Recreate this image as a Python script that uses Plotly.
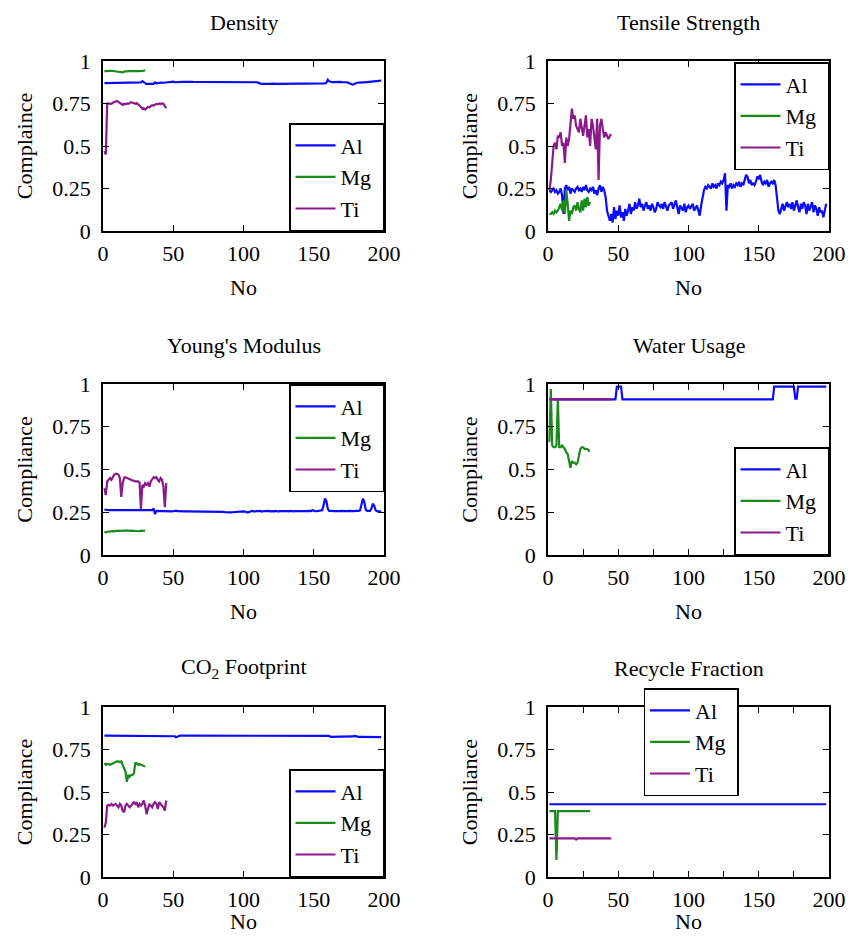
import plotly.graph_objects as go

FONT = "Liberation Serif"
COLORS = {"Al": "#0a0aff", "Mg": "#1a8a1a", "Ti": "#8a1a8a"}
SERIES = ["Al", "Mg", "Ti"]

titles = ["Density", "Tensile Strength", "Young's Modulus", "Water Usage",
          "CO<sub>2</sub> Footprint", "Recycle Fraction"]
ylabels = ["Complaince", "Compliance", "Compliance", "Compliance", "Compliance", "Compliance"]
xlabel = "No"
x_ticks = [0, 50, 100, 150, 200]
y_ticks = [0, 0.25, 0.5, 0.75, 1]
y_ticktext = ["0", "0.25", "0.5", "0.75", "1"]

# ---------------- Density ----------------
density_al = [
    0.870, 0.870, 0.871, 0.870, 0.870, 0.871, 0.870, 0.870, 0.871, 0.871, 0.870, 0.870, 0.871, 0.870, 0.870, 0.871, 0.871, 0.870, 0.870, 0.871,
    0.870, 0.871, 0.871, 0.870, 0.871, 0.872, 0.874, 0.882, 0.876, 0.866, 0.864, 0.866, 0.865, 0.866, 0.867, 0.866, 0.874, 0.869, 0.870, 0.872,
    0.872, 0.873, 0.872, 0.873, 0.873, 0.874, 0.873, 0.874, 0.876, 0.879, 0.875, 0.876, 0.876, 0.877, 0.877, 0.876, 0.877, 0.877, 0.878, 0.877,
    0.877, 0.877, 0.878, 0.877, 0.877, 0.878, 0.878, 0.877, 0.877, 0.878, 0.877, 0.877, 0.876, 0.877, 0.877, 0.876, 0.876, 0.877, 0.876, 0.877,
    0.877, 0.876, 0.877, 0.877, 0.878, 0.878, 0.877, 0.878, 0.879, 0.878, 0.877, 0.877, 0.876, 0.876, 0.877, 0.876, 0.876, 0.876, 0.877, 0.876,
    0.876, 0.876, 0.877, 0.876, 0.876, 0.875, 0.876, 0.876, 0.875, 0.874, 0.868, 0.867, 0.866, 0.867, 0.868, 0.867, 0.866, 0.866, 0.867, 0.866,
    0.867, 0.867, 0.866, 0.866, 0.868, 0.867, 0.867, 0.868, 0.869, 0.868, 0.868, 0.867, 0.868, 0.868, 0.867, 0.868, 0.867, 0.867, 0.868, 0.868,
    0.868, 0.867, 0.868, 0.868, 0.869, 0.868, 0.868, 0.869, 0.869, 0.868, 0.869, 0.868, 0.868, 0.869, 0.868, 0.868, 0.869, 0.868, 0.872, 0.890,
    0.880, 0.876, 0.875, 0.876, 0.877, 0.876, 0.877, 0.878, 0.877, 0.876, 0.877, 0.876, 0.875, 0.874, 0.872, 0.866, 0.863, 0.861, 0.866, 0.870,
    0.872, 0.873, 0.872, 0.873, 0.874, 0.874, 0.875, 0.875, 0.874, 0.875, 0.876, 0.876, 0.877, 0.878, 0.880, 0.882, 0.884, 0.885,
]
density_mg = [
    0.940, 0.941, 0.941, 0.940, 0.941, 0.942, 0.941, 0.940, 0.941, 0.941, 0.940, 0.939, 0.937, 0.933, 0.938,
    0.940, 0.941, 0.940, 0.941, 0.940, 0.939, 0.938, 0.939, 0.940, 0.941, 0.940, 0.941, 0.942, 0.943, 0.945,
]
density_ti = [
    0.47, 0.45, 0.75, 0.750, 0.752, 0.748, 0.755, 0.760, 0.762, 0.765, 0.760, 0.755, 0.750, 0.742, 0.748,
    0.745, 0.750, 0.748, 0.752, 0.758, 0.755, 0.750, 0.748, 0.752, 0.745, 0.740, 0.730, 0.718, 0.722, 0.715,
    0.725, 0.730, 0.728, 0.735, 0.740, 0.738, 0.744, 0.748, 0.745, 0.750, 0.747, 0.750, 0.748, 0.735, 0.722,
]

# ---------------- Tensile Strength ----------------
tensile_al = [
    0.24, 0.23, 0.24, 0.25, 0.23, 0.24, 0.22, 0.23, 0.25, 0.21,
    0.10, 0.25, 0.27, 0.24, 0.26, 0.22, 0.25, 0.24, 0.23, 0.25,
    0.26, 0.24, 0.25, 0.23, 0.26, 0.24, 0.27, 0.24, 0.23, 0.25,
    0.24, 0.26, 0.22, 0.24, 0.21, 0.25, 0.27, 0.23, 0.26, 0.24,
    0.20, 0.12, 0.08, 0.06, 0.10, 0.05, 0.14, 0.07, 0.12, 0.09,
    0.15, 0.08, 0.11, 0.06, 0.13, 0.09, 0.12, 0.16, 0.10, 0.14,
    0.12, 0.17, 0.13, 0.15, 0.19, 0.14, 0.16, 0.12, 0.15, 0.17,
    0.13, 0.15, 0.12, 0.16, 0.14, 0.11, 0.13, 0.17, 0.15, 0.14,
    0.16, 0.13, 0.17, 0.14, 0.12, 0.15, 0.16, 0.17, 0.13, 0.16,
    0.18, 0.14, 0.10, 0.15, 0.13, 0.12, 0.16, 0.11, 0.14, 0.15,
    0.13, 0.15, 0.16, 0.12, 0.14, 0.15, 0.12, 0.09, 0.15, 0.20,
    0.24, 0.26, 0.25, 0.27, 0.26, 0.25, 0.28, 0.26, 0.27, 0.25,
    0.28, 0.27, 0.29, 0.28, 0.30, 0.34, 0.12, 0.27, 0.26, 0.28,
    0.25, 0.27, 0.26, 0.28, 0.27, 0.29, 0.26, 0.28, 0.27, 0.30,
    0.33, 0.32, 0.28, 0.30, 0.27, 0.28, 0.27, 0.29, 0.32, 0.31,
    0.33, 0.29, 0.27, 0.29, 0.28, 0.30, 0.26, 0.28, 0.29, 0.28,
    0.30, 0.27, 0.18, 0.12, 0.10, 0.14, 0.16, 0.12, 0.15, 0.17,
    0.14, 0.16, 0.13, 0.17, 0.12, 0.15, 0.18, 0.14, 0.11, 0.16,
    0.13, 0.17, 0.15, 0.10, 0.16, 0.12, 0.14, 0.17, 0.11, 0.15,
    0.13, 0.09, 0.14, 0.11, 0.12, 0.08, 0.12, 0.16,
]
tensile_mg = [
    0.10, 0.10, 0.11, 0.10, 0.12, 0.11, 0.12, 0.14, 0.16, 0.12, 0.18, 0.10, 0.24, 0.16, 0.06,
    0.12, 0.10, 0.14, 0.15, 0.12, 0.17, 0.13, 0.11, 0.18, 0.12, 0.19, 0.14, 0.20, 0.15, 0.17,
]
tensile_ti = [
    0.24, 0.30, 0.40, 0.50, 0.52, 0.48, 0.56, 0.55, 0.58, 0.50, 0.52, 0.40, 0.55, 0.50, 0.54,
    0.62, 0.72, 0.66, 0.68, 0.62, 0.60, 0.58, 0.66, 0.60, 0.56, 0.62, 0.68, 0.55, 0.60, 0.50,
    0.66, 0.62, 0.55, 0.48, 0.66, 0.30, 0.62, 0.66, 0.60, 0.55, 0.58, 0.56, 0.54, 0.56, 0.57,
]

# ---------------- Young's Modulus ----------------
young_al = [
    0.265, 0.262, 0.263, 0.262, 0.262, 0.263, 0.262, 0.261, 0.262, 0.263,
    0.262, 0.261, 0.262, 0.263, 0.262, 0.261, 0.262, 0.263, 0.262, 0.262,
    0.261, 0.262, 0.261, 0.262, 0.263, 0.262, 0.261, 0.262, 0.263, 0.262,
    0.261, 0.262, 0.262, 0.261, 0.262, 0.272, 0.240, 0.258, 0.257, 0.256,
    0.256, 0.255, 0.256, 0.257, 0.256, 0.255, 0.256, 0.255, 0.255, 0.256,
    0.258, 0.259, 0.256, 0.255, 0.255, 0.255, 0.256, 0.255, 0.255, 0.255,
    0.255, 0.256, 0.255, 0.255, 0.255, 0.255, 0.256, 0.255, 0.255, 0.255,
    0.255, 0.255, 0.256, 0.255, 0.255, 0.255, 0.255, 0.256, 0.255, 0.255,
    0.255, 0.255, 0.255, 0.254, 0.253, 0.252, 0.250, 0.249, 0.249, 0.250,
    0.249, 0.250, 0.251, 0.250, 0.252, 0.254, 0.255, 0.256, 0.258, 0.255,
    0.254, 0.250, 0.248, 0.252, 0.255, 0.258, 0.256, 0.254, 0.257, 0.255,
    0.256, 0.258, 0.254, 0.256, 0.257, 0.255, 0.256, 0.258, 0.255, 0.257,
    0.256, 0.255, 0.258, 0.256, 0.254, 0.257, 0.256, 0.258, 0.255, 0.256,
    0.257, 0.255, 0.258, 0.256, 0.257, 0.255, 0.256, 0.258, 0.257, 0.256,
    0.258, 0.256, 0.257, 0.255, 0.257, 0.258, 0.256, 0.257, 0.262, 0.258,
    0.257, 0.256, 0.258, 0.257, 0.258, 0.262, 0.290, 0.330, 0.315, 0.270,
    0.258, 0.256, 0.258, 0.257, 0.256, 0.258, 0.257, 0.256, 0.258, 0.257,
    0.256, 0.258, 0.257, 0.256, 0.258, 0.257, 0.256, 0.258, 0.257, 0.258,
    0.257, 0.258, 0.262, 0.300, 0.330, 0.310, 0.265, 0.258, 0.257, 0.258,
    0.270, 0.300, 0.290, 0.262, 0.256, 0.255, 0.255, 0.254,
]
young_mg = [
    0.135, 0.133, 0.136, 0.138, 0.137, 0.139, 0.140, 0.138, 0.141, 0.142, 0.140, 0.143, 0.141, 0.140, 0.142,
    0.144, 0.141, 0.143, 0.140, 0.142, 0.141, 0.143, 0.140, 0.142, 0.141, 0.139, 0.142, 0.140, 0.143, 0.141,
]
young_ti = [
    0.39, 0.35, 0.43, 0.44, 0.45, 0.44, 0.46, 0.47, 0.475, 0.475, 0.47, 0.45, 0.34, 0.42, 0.45,
    0.455, 0.45, 0.445, 0.44, 0.44, 0.435, 0.435, 0.43, 0.43, 0.43, 0.425, 0.27, 0.41, 0.40, 0.42,
    0.41, 0.42, 0.40, 0.43, 0.44, 0.455, 0.45, 0.455, 0.44, 0.43, 0.45, 0.44, 0.40, 0.28, 0.42,
]

# ---------------- Water Usage ----------------
water_al = [
    0.91, 0.91, 0.91, 0.91, 0.91, 0.91, 0.91, 0.91, 0.91, 0.91, 0.91, 0.91,
    0.91, 0.91, 0.91, 0.91, 0.91, 0.91, 0.91, 0.91, 0.91, 0.91, 0.91, 0.91,
    0.91, 0.91, 0.91, 0.91, 0.91, 0.91, 0.91, 0.91, 0.91, 0.91, 0.91, 0.91,
    0.91, 0.91, 0.91, 0.91, 0.91, 0.91, 0.91, 0.91, 0.91, 0.91, 0.91, 0.91,
    0.985, 0.985, 0.985, 0.985,
    0.91, 0.91, 0.91, 0.91, 0.91, 0.91, 0.91, 0.91, 0.91, 0.91, 0.91, 0.91,
    0.91, 0.91, 0.91, 0.91, 0.91, 0.91, 0.91, 0.91, 0.91, 0.91, 0.91, 0.91,
    0.91, 0.91, 0.91, 0.91, 0.91, 0.91, 0.91, 0.91, 0.91, 0.91, 0.91, 0.91,
    0.91, 0.91, 0.91, 0.91, 0.91, 0.91, 0.91, 0.91, 0.91, 0.91, 0.91, 0.91,
    0.91, 0.91, 0.91, 0.91, 0.91, 0.91, 0.91, 0.91, 0.91, 0.91, 0.91, 0.91,
    0.91, 0.91, 0.91, 0.91, 0.91, 0.91, 0.91, 0.91, 0.91, 0.91, 0.91, 0.91,
    0.91, 0.91, 0.91, 0.91, 0.91, 0.91, 0.91, 0.91, 0.91, 0.91, 0.91, 0.91,
    0.91, 0.91, 0.91, 0.91, 0.91, 0.91, 0.91, 0.91, 0.91, 0.91, 0.91, 0.91,
    0.91, 0.91, 0.91, 0.91, 0.91, 0.91, 0.91, 0.91, 0.91, 0.91, 0.91, 0.91,
    0.985, 0.985, 0.985, 0.985, 0.985, 0.985, 0.985, 0.985, 0.985, 0.985, 0.985, 0.985, 0.985, 0.985, 0.985,
    0.915, 0.915,
    0.985, 0.985, 0.985, 0.985, 0.985, 0.985, 0.985, 0.985, 0.985, 0.985, 0.985,
    0.985, 0.985, 0.985, 0.985, 0.985, 0.985, 0.985, 0.985, 0.985, 0.985,
]
water_mg = [
    0.66, 0.97, 0.64, 0.63, 0.63, 0.64, 0.91, 0.63, 0.63, 0.64, 0.63, 0.62, 0.60, 0.59, 0.55,
    0.51, 0.55, 0.54, 0.54, 0.53, 0.54, 0.58, 0.62, 0.63, 0.63, 0.62, 0.62, 0.62, 0.61, 0.61,
]
water_ti = [
    0.91, 0.91, 0.91, 0.91, 0.91, 0.91, 0.91, 0.91, 0.91, 0.91, 0.91, 0.91, 0.91, 0.91, 0.91,
    0.91, 0.91, 0.91, 0.91, 0.913, 0.91, 0.91, 0.91, 0.91, 0.91, 0.91, 0.91, 0.91, 0.91, 0.91,
    0.91, 0.91, 0.91, 0.91, 0.91, 0.91, 0.91, 0.91, 0.91, 0.91, 0.91, 0.91, 0.91, 0.91, 0.91,
]

# ---------------- CO2 Footprint ----------------
co2_al = [
    0.832, 0.832, 0.832, 0.832, 0.832, 0.832, 0.832, 0.832, 0.832, 0.832,
    0.832, 0.832, 0.832, 0.832, 0.832, 0.832, 0.832, 0.832, 0.832, 0.832,
    0.832, 0.832, 0.832, 0.832, 0.832, 0.832, 0.832, 0.832, 0.832, 0.832,
    0.832, 0.832, 0.832, 0.832, 0.832, 0.832, 0.832, 0.832, 0.832, 0.832,
    0.832, 0.832, 0.832, 0.832, 0.832, 0.832, 0.832, 0.832, 0.832, 0.832,
    0.828, 0.822, 0.826, 0.830,
    0.832, 0.832, 0.832, 0.832, 0.832, 0.832, 0.832, 0.832, 0.832, 0.832,
    0.832, 0.832, 0.832, 0.832, 0.832, 0.832, 0.832, 0.832, 0.832, 0.832,
    0.832, 0.832, 0.832, 0.832, 0.832, 0.832, 0.832, 0.832, 0.832, 0.832,
    0.832, 0.832, 0.832, 0.832, 0.832, 0.832, 0.832, 0.832, 0.832, 0.832,
    0.832, 0.832, 0.832, 0.832, 0.832, 0.832, 0.832, 0.832, 0.832, 0.832,
    0.832, 0.832, 0.832, 0.832, 0.832, 0.832, 0.832, 0.832, 0.832, 0.832,
    0.832, 0.832, 0.832, 0.832, 0.832, 0.832, 0.832, 0.832, 0.832, 0.832,
    0.832, 0.832, 0.832, 0.832, 0.832, 0.832, 0.832, 0.832, 0.832, 0.832,
    0.832, 0.832, 0.832, 0.832, 0.832, 0.832, 0.832, 0.832, 0.832, 0.832,
    0.832, 0.832, 0.832, 0.832, 0.832, 0.832, 0.832, 0.832, 0.832, 0.832,
    0.832, 0.832, 0.832, 0.832, 0.832, 0.832, 0.830,
    0.824, 0.824, 0.824, 0.824, 0.824, 0.824, 0.824, 0.824, 0.824, 0.824, 0.824, 0.824, 0.824, 0.824, 0.824, 0.824,
    0.827, 0.830, 0.827,
    0.824, 0.824, 0.824, 0.824, 0.824, 0.824, 0.824, 0.824, 0.824, 0.824, 0.824, 0.824, 0.824, 0.824, 0.824, 0.823, 0.823, 0.823,
]
co2_mg = [
    0.67, 0.66, 0.665, 0.66, 0.66, 0.665, 0.67, 0.675, 0.68, 0.68, 0.68, 0.675, 0.68, 0.66, 0.64,
    0.62, 0.56, 0.60, 0.59, 0.60, 0.60, 0.61, 0.67, 0.67, 0.66, 0.665, 0.66, 0.655, 0.65, 0.65,
]
co2_ti = [
    0.29, 0.32, 0.42, 0.425, 0.42, 0.43, 0.42, 0.425, 0.43, 0.42, 0.41, 0.43, 0.42, 0.39, 0.38,
    0.42, 0.43, 0.42, 0.41, 0.42, 0.43, 0.44, 0.43, 0.44, 0.41, 0.43, 0.42, 0.43, 0.45, 0.42,
    0.37, 0.40, 0.43, 0.42, 0.41, 0.43, 0.44, 0.43, 0.40, 0.44, 0.43, 0.42, 0.41, 0.39, 0.45,
]

# ---------------- Recycle Fraction ----------------
recycle_al = [
    0.428, 0.428, 0.428, 0.428, 0.428, 0.428, 0.428, 0.428, 0.428, 0.428,
    0.428, 0.428, 0.428, 0.428, 0.428, 0.428, 0.428, 0.428, 0.428, 0.428,
    0.428, 0.428, 0.428, 0.428, 0.428, 0.428, 0.428, 0.428, 0.428, 0.428,
    0.428, 0.428, 0.428, 0.428, 0.428, 0.428, 0.428, 0.428, 0.428, 0.428,
    0.428, 0.428, 0.428, 0.428, 0.428, 0.428, 0.428, 0.428, 0.428, 0.428,
    0.428, 0.428, 0.428, 0.428, 0.428, 0.428, 0.428, 0.428, 0.428, 0.428,
    0.428, 0.428, 0.428, 0.428, 0.428, 0.428, 0.428, 0.428, 0.428, 0.428,
    0.428, 0.428, 0.428, 0.428, 0.428, 0.428, 0.428, 0.428, 0.428, 0.428,
    0.428, 0.428, 0.428, 0.428, 0.428, 0.428, 0.428, 0.428, 0.428, 0.428,
    0.428, 0.428, 0.428, 0.428, 0.428, 0.428, 0.428, 0.428, 0.428, 0.428,
    0.428, 0.428, 0.428, 0.428, 0.428, 0.428, 0.428, 0.428, 0.428, 0.428,
    0.428, 0.428, 0.428, 0.428, 0.428, 0.428, 0.428, 0.428, 0.428, 0.428,
    0.428, 0.428, 0.428, 0.428, 0.428, 0.428, 0.428, 0.428, 0.428, 0.428,
    0.428, 0.428, 0.428, 0.428, 0.428, 0.428, 0.428, 0.428, 0.428, 0.428,
    0.428, 0.428, 0.428, 0.428, 0.428, 0.428, 0.428, 0.428, 0.428, 0.428,
    0.428, 0.428, 0.428, 0.428, 0.428, 0.428, 0.428, 0.428, 0.428, 0.428,
    0.428, 0.428, 0.428, 0.428, 0.428, 0.428, 0.428, 0.428, 0.428, 0.428,
    0.428, 0.428, 0.428, 0.428, 0.428, 0.428, 0.428, 0.428, 0.428, 0.428,
    0.428, 0.428, 0.428, 0.428, 0.428, 0.428, 0.428, 0.428, 0.428, 0.428,
    0.428, 0.428, 0.428, 0.428, 0.428, 0.428, 0.428, 0.428,
]
recycle_mg = [
    0.388, 0.388, 0.388, 0.388, 0.388, 0.10, 0.388, 0.388, 0.388, 0.388, 0.388, 0.388, 0.388, 0.388, 0.388,
    0.388, 0.388, 0.388, 0.388, 0.388, 0.388, 0.388, 0.388, 0.388, 0.388, 0.388, 0.388, 0.388, 0.388, 0.388,
]
recycle_ti = [
    0.227, 0.227, 0.227, 0.227, 0.227, 0.227, 0.227, 0.227, 0.227, 0.227, 0.227, 0.227, 0.227, 0.227, 0.227,
    0.227, 0.227, 0.227, 0.227, 0.220, 0.227, 0.227, 0.227, 0.227, 0.227, 0.227, 0.227, 0.227, 0.227, 0.227,
    0.227, 0.227, 0.227, 0.227, 0.227, 0.227, 0.227, 0.227, 0.227, 0.227, 0.227, 0.227, 0.227, 0.227, 0.227,
]

panel_data = [
    {"Al": density_al, "Mg": density_mg, "Ti": density_ti},
    {"Al": tensile_al, "Mg": tensile_mg, "Ti": tensile_ti},
    {"Al": young_al, "Mg": young_mg, "Ti": young_ti},
    {"Al": water_al, "Mg": water_mg, "Ti": water_ti},
    {"Al": co2_al, "Mg": co2_mg, "Ti": co2_ti},
    {"Al": recycle_al, "Mg": recycle_mg, "Ti": recycle_ti},
]

# ---------------- layout geometry (window pixels) ----------------
W, H = 848, 944
col_px = [(103, 384), (548, 829)]
row_px = [(61, 231), (384, 555), (707, 877)]
bottom_xtitle_y = 921  # the bottom row's "No" sits closer to its tick labels

legend_pos = [
    (384, 231, "right", "bottom"),
    (829, 62, "right", "top"),
    (384, 384, "right", "top"),
    (829, 555, "right", "bottom"),
    (384, 877, "right", "bottom"),
    (691, 688, "center", "top"),
]
minor_ticks = [False, False, False, True, False, True]


def px_x(v):
    return v / W


def px_y(v):
    return 1 - v / H


fig = go.Figure()
layout = dict(
    width=W, height=H,
    margin=dict(l=0, r=0, t=0, b=0),
    paper_bgcolor="white", plot_bgcolor="white",
    font=dict(family=FONT, size=22, color="black"),
    showlegend=True,
    annotations=[],
)

for i in range(6):
    n = i + 1
    r, c = divmod(i, 2)
    x0, x1 = col_px[c]
    y0, y1 = row_px[r]
    xa = "x" if n == 1 else f"x{n}"
    ya = "y" if n == 1 else f"y{n}"
    leg = "legend" if n == 1 else f"legend{n}"

    for s in SERIES:
        vals = panel_data[i][s]
        fig.add_trace(go.Scatter(
            x=list(range(1, len(vals) + 1)), y=vals,
            mode="lines", name=s + "\u00a0",
            line=dict(color=COLORS[s], width=2.2),
            xaxis=xa, yaxis=ya, legend=leg,
            legendgroup=f"{s}{n}",
        ))

    bottom_row = (r == 2)
    xaxis = dict(
        domain=[px_x(x0), px_x(x1)], anchor=ya,
        range=[0, 200], tickvals=x_ticks,
        ticks="inside", ticklen=6, tickwidth=1, tickcolor="black",
        showline=True, linecolor="black", linewidth=1.5, mirror="ticks",
        showgrid=False, zeroline=False,
        tickfont=dict(family=FONT, size=22, color="black"),
        ticklabelstandoff=2,
        automargin=False, fixedrange=True,
    )
    if not bottom_row:
        xaxis["title"] = dict(text=xlabel, font=dict(family=FONT, size=22, color="black"),
                              standoff=14)
    else:
        layout["annotations"].append(dict(
            text=xlabel, x=px_x((x0 + x1) / 2), y=px_y(bottom_xtitle_y),
            xref="paper", yref="paper", xanchor="center", yanchor="middle",
            showarrow=False, font=dict(family=FONT, size=22, color="black"),
        ))
    if minor_ticks[i]:
        xaxis["minor"] = dict(dtick=25, tick0=0, ticks="inside", ticklen=6,
                              tickwidth=1, tickcolor="black", showgrid=False)
    yaxis = dict(
        domain=[px_y(y1), px_y(y0)], anchor=xa,
        range=[0, 1], tickvals=y_ticks, ticktext=y_ticktext,
        ticks="inside", ticklen=6, tickwidth=1, tickcolor="black",
        showline=True, linecolor="black", linewidth=1.5, mirror="ticks",
        showgrid=False, zeroline=False,
        tickfont=dict(family=FONT, size=22, color="black"),
        ticklabelstandoff=6,
        title=dict(text=ylabels[i], font=dict(family=FONT, size=22, color="black"), standoff=14),
        automargin=False, fixedrange=True,
    )
    layout["xaxis" if n == 1 else f"xaxis{n}"] = xaxis
    layout["yaxis" if n == 1 else f"yaxis{n}"] = yaxis

    lx, ly, xan, yan = legend_pos[i]
    layout[leg] = dict(
        x=px_x(lx), y=px_y(ly), xref="paper", yref="paper",
        xanchor=xan, yanchor=yan,
        bgcolor="white", bordercolor="black", borderwidth=1.5,
        font=dict(family=FONT, size=22, color="black"),
        itemwidth=40, tracegroupgap=0,
        itemclick=False, itemdoubleclick=False,
    )

    layout["annotations"].append(dict(
        text=titles[i], x=px_x((x0 + x1) / 2), y=px_y(y0 - 39),
        xref="paper", yref="paper", xanchor="center", yanchor="middle",
        showarrow=False, font=dict(family=FONT, size=22, color="black"),
    ))

fig.update_layout(**layout)
fig.write_html(
    "out.html",
    config={"displayModeBar": False},
    default_width=f"{W}px", default_height=f"{H}px",
    post_script="document.body.style.margin='0px'; document.body.style.overflow='hidden';",
)
